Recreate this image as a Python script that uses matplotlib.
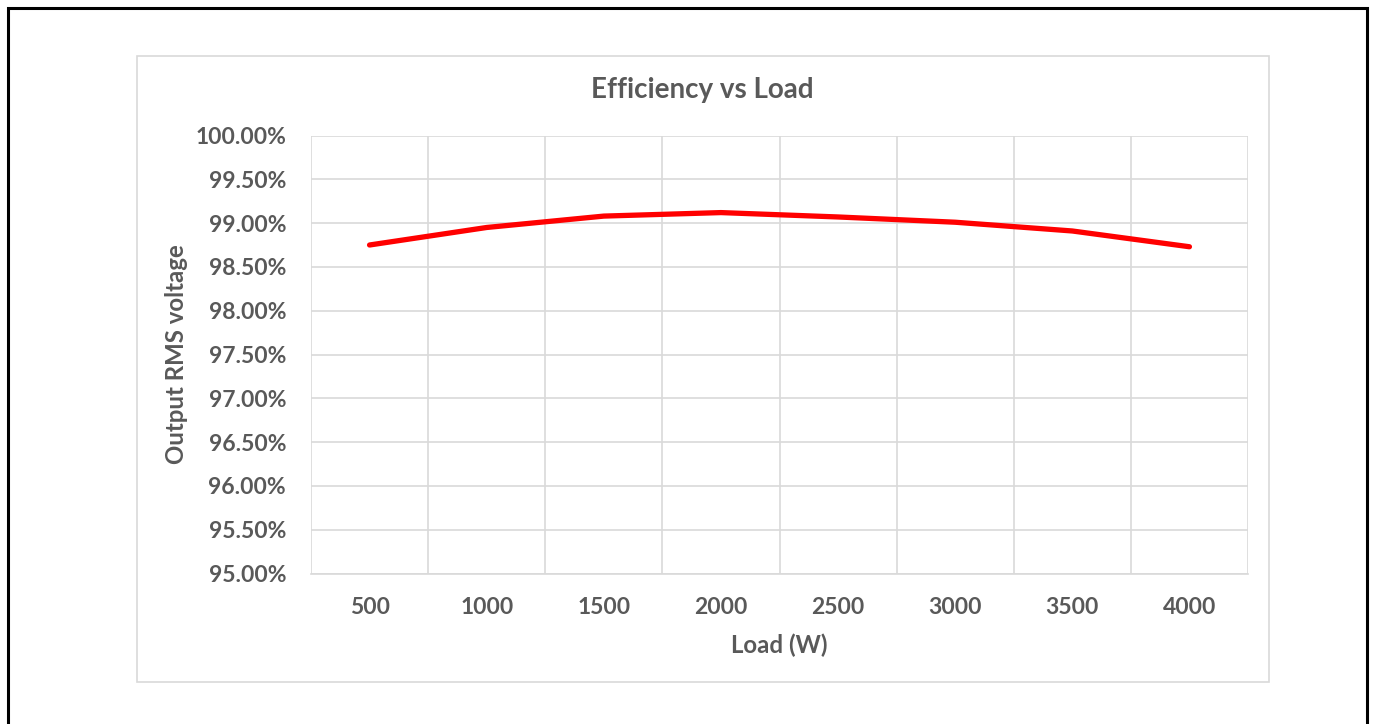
import matplotlib
matplotlib.use("Agg")
import matplotlib.pyplot as plt
from matplotlib.patches import Rectangle
from matplotlib.ticker import FuncFormatter, MultipleLocator

loads = ["500", "1000", "1500", "2000", "2500", "3000", "3500", "4000"]
efficiency = [98.75, 98.95, 99.08, 99.12, 99.07, 99.01, 98.91, 98.73]

W, H = 1373, 724
fig = plt.figure(figsize=(W / 100, H / 100), dpi=100)
plt.rcParams["font.family"] = ["Lato", "DejaVu Sans"]
txt = "#595959"
grid = "#d9d9d9"

# outer black frame and inner chart-area frame (pixel coordinates)
def px_rect(x0, y0, x1, y1, **kw):
    fig.patches.append(Rectangle((x0 / W, 1 - y1 / H), (x1 - x0) / W, (y1 - y0) / H,
                                 transform=fig.transFigure, fill=False, **kw))

px_rect(7.5, 7.5, 1366.5, 730, edgecolor="black", linewidth=2.2)
px_rect(136.5, 56, 1269, 682, edgecolor=grid, linewidth=1.2)

left, top, right, bottom = 311, 135.5, 1248, 573.5
ax = fig.add_axes([left / W, 1 - bottom / H, (right - left) / W, (bottom - top) / H])

x = list(range(len(loads)))
ax.plot(x, efficiency, color="#ff0000", linewidth=3.8, solid_capstyle="round",
        solid_joinstyle="round", zorder=3)

ax.set_xlim(-0.5, len(loads) - 0.5)
ax.set_ylim(95, 100)
ax.yaxis.set_major_locator(MultipleLocator(0.5))
ax.yaxis.set_major_formatter(FuncFormatter(lambda v, p: f"{v:.2f}%"))
ax.set_xticks(x)
ax.set_xticklabels(loads)
ax.set_xticks([i - 0.5 for i in range(len(loads) + 1)], minor=True)

ax.grid(True, which="major", axis="y", color=grid, linewidth=1.2)
ax.grid(True, which="minor", axis="x", color=grid, linewidth=1.2)
ax.set_axisbelow(True)
for s in ax.spines.values():
    s.set_visible(False)
ax.spines["bottom"].set_visible(True)
ax.spines["bottom"].set_color(grid)
ax.spines["bottom"].set_linewidth(1.2)

ax.tick_params(axis="both", which="both", length=0, labelsize=16.5, labelcolor=txt)
ax.tick_params(axis="y", pad=18)
ax.tick_params(axis="x", pad=17)
for lab in ax.get_xticklabels() + ax.get_yticklabels():
    lab.set_fontweight("bold")

fig.text(702 / W, 1 - 90 / H, "Efficiency vs Load", ha="center", va="center",
         fontsize=20, fontweight="bold", color=txt)
fig.text(176 / W, 1 - 354 / H, "Output RMS voltage", ha="center", va="center",
         rotation=90, fontsize=17.3, fontweight="bold", color=txt)
fig.text(779 / W, 1 - 645 / H, "Load (W)", ha="center", va="center",
         fontsize=17.3, fontweight="bold", color=txt)

fig.savefig("out.png", dpi=100)
